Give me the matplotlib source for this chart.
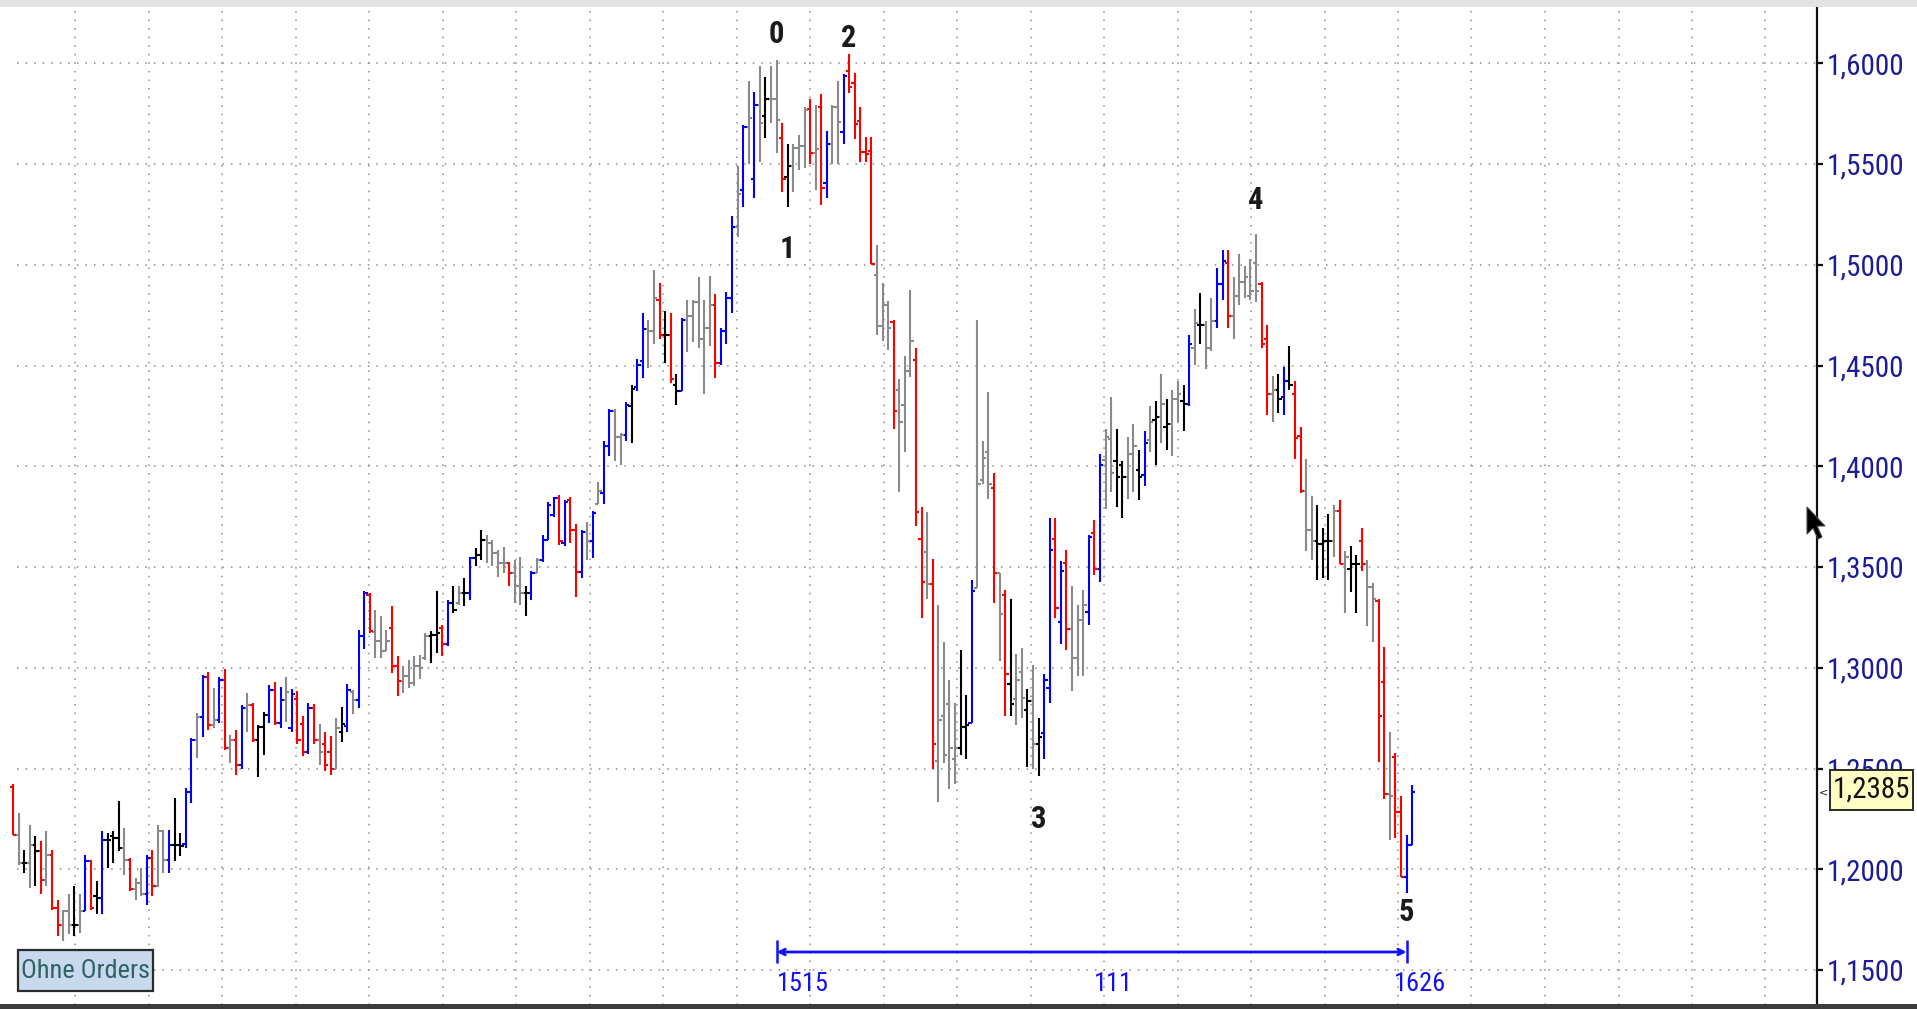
import numpy as np
import matplotlib.pyplot as plt
from matplotlib import font_manager as fm
from matplotlib.patches import Rectangle, Polygon

# ---- OHLC data ----
opens = [
    1.2410, 1.2170, 1.2031, 1.2031, 1.2122, 1.2089, 1.1949, 1.2073, 1.1809, 1.1726,
    1.1793, 1.1726, 1.1726, 1.1793, 1.2040, 1.1866, 1.1860, 1.2147, 1.2163, 1.2155,
    1.2106, 1.2048, 1.1900, 1.1932, 1.1875, 1.2056, 1.1916, 1.2188, 1.2048, 1.2122,
    1.2122, 1.2125, 1.2386, 1.2642, 1.2757, 1.2955, 1.2716, 1.2741, 1.2939, 1.2601,
    1.2642, 1.2518, 1.2799, 1.2815, 1.2642, 1.2708, 1.2766, 1.2889, 1.2724, 1.2840,
    1.2700, 1.2845, 1.2720, 1.2580, 1.2800, 1.2640, 1.2620, 1.2580, 1.2500, 1.2680,
    1.2710, 1.2880, 1.2840,
    1.3157, 1.3363, 1.3180, 1.3132, 1.3083, 1.3198, 1.3009, 1.2934, 1.2959, 1.2926,
    1.3009, 1.3050, 1.3157, 1.3165, 1.3198, 1.3116, 1.3320, 1.3320, 1.3371, 1.3371,
    1.3544, 1.3560, 1.3634, 1.3618, 1.3569, 1.3519, 1.3519, 1.3470, 1.3404, 1.3371,
    1.3371, 1.3470, 1.3536, 1.3634, 1.3758,
    1.3841, 1.3620, 1.3832, 1.3685, 1.3473, 1.3675, 1.3629, 1.3814, 1.3869, 1.4099,
    1.4274, 1.4145, 1.4154, 1.4300, 1.4394, 1.4523, 1.4679, 1.4670, 1.4827, 1.4652,
    1.4652, 1.4403, 1.4375, 1.4725, 1.4744, 1.4817, 1.4633, 1.4688, 1.4799, 1.4514,
    1.4670, 1.4836, 1.5186, 1.5370, 1.5683, 1.5425, 1.5794, 1.5738, 1.5821, 1.5821,
    1.5628, 1.5434, 1.5490, 1.5582, 1.5591, 1.5775, 1.5554, 1.5784, 1.5407, 1.5600,
    1.5784, 1.5657, 1.5962, 1.5900, 1.5715, 1.5560, 1.5566,
    1.4950, 1.4697, 1.4800, 1.4716, 1.4379, 1.4304, 1.4473, 1.4529, 1.3641, 1.3575,
    1.3416, 1.2537, 1.2762, 1.2818, 1.2546, 1.2603, 1.2706, 1.2724, 1.3397, 1.3930,
    1.4071, 1.3893, 1.3472, 1.3360, 1.2921, 1.2846, 1.2977, 1.2790, 1.2836, 1.2621,
    1.2677, 1.2902, 1.3641, 1.3229, 1.3519, 1.3192, 1.3051, 1.3238, 1.3276, 1.3669,
    1.3491, 1.4033, 1.4136, 1.4024, 1.4005, 1.3949, 1.4061,
    1.3981, 1.3958, 1.4129, 1.4232, 1.4243, 1.4197, 1.4209, 1.4334, 1.4323, 1.4311,
    1.4585, 1.4699, 1.4699, 1.4585, 1.4722, 1.4904, 1.5007, 1.4745, 1.4847, 1.4916,
    1.4847, 1.5007, 1.4904, 1.4631, 1.4357, 1.4380, 1.4346, 1.4425, 1.4357, 1.4152,
    1.3878, 1.3684, 1.3627, 1.3616, 1.3627, 1.3627, 1.3776, 1.3513, 1.3491, 1.3513,
    1.3627, 1.3513, 1.3400, 1.3331, 1.2932, 1.2373, 1.2556, 1.2282, 1.1963, 1.2123,
]
highs = [
    1.2423, 1.2279, 1.2098, 1.2221, 1.2163, 1.2139, 1.2188, 1.2098, 1.1850, 1.1800,
    1.1875, 1.1916, 1.1875, 1.2073, 1.2048, 1.1941, 1.2188, 1.2180, 1.2188, 1.2337,
    1.2205, 1.2056, 1.1957, 1.2007, 1.2073, 1.2098, 1.2221, 1.2196, 1.2196, 1.2353,
    1.2180, 1.2403, 1.2650, 1.2774, 1.2964, 1.2980, 1.2898, 1.2955, 1.2992, 1.2667,
    1.2691, 1.2815, 1.2873, 1.2824, 1.2716, 1.2782, 1.2914, 1.2930, 1.2906, 1.2955,
    1.2897, 1.2885, 1.2760, 1.2827, 1.2819, 1.2720, 1.2680, 1.2660, 1.2750, 1.2803,
    1.2922, 1.2890, 1.3190,
    1.3379, 1.3371, 1.3289, 1.3256, 1.3190, 1.3305, 1.3058, 1.3009, 1.3041, 1.3058,
    1.3066, 1.3173, 1.3181, 1.3379, 1.3214, 1.3338, 1.3404, 1.3404, 1.3445, 1.3552,
    1.3593, 1.3684, 1.3659, 1.3634, 1.3585, 1.3601, 1.3527, 1.3536, 1.3552, 1.3404,
    1.3478, 1.3544, 1.3659, 1.3824, 1.3849,
    1.3860, 1.3832, 1.3850, 1.3712, 1.3685, 1.3722, 1.3777, 1.3924, 1.4127, 1.4283,
    1.4283, 1.4164, 1.4320, 1.4403, 1.4532, 1.4762, 1.4725, 1.4974, 1.4910, 1.4771,
    1.4762, 1.4458, 1.4735, 1.4827, 1.4827, 1.4937, 1.4827, 1.4946, 1.4854, 1.4688,
    1.4863, 1.5241, 1.5490, 1.5692, 1.5913, 1.5858, 1.5987, 1.5932, 1.5987, 1.6015,
    1.5702, 1.5600, 1.5600, 1.5646, 1.5784, 1.5821, 1.5794, 1.5849, 1.5665, 1.5794,
    1.5913, 1.5946, 1.6045, 1.5954, 1.5781, 1.5632, 1.5632,
    1.5099, 1.4912, 1.4819, 1.4725, 1.4435, 1.4547, 1.4875, 1.4585, 1.3800, 1.3771,
    1.3538, 1.3313, 1.3126, 1.2939, 1.2827, 1.3089, 1.2865, 1.3435, 1.4725, 1.4127,
    1.4370, 1.3968, 1.3472, 1.3388, 1.3341, 1.3070, 1.3098, 1.2893, 1.3014, 1.2752,
    1.2967, 1.3743, 1.3743, 1.3528, 1.3584, 1.3407, 1.3313, 1.3388, 1.3659, 1.3734,
    1.4061, 1.4183, 1.4342, 1.4183, 1.4024, 1.4145, 1.4211,
    1.4083, 1.4175, 1.4300, 1.4323, 1.4460, 1.4334, 1.4380, 1.4425, 1.4403, 1.4653,
    1.4779, 1.4859, 1.4722, 1.4836, 1.4984, 1.5075, 1.5075, 1.4938, 1.5052, 1.4995,
    1.5030, 1.5155, 1.4916, 1.4699, 1.4448, 1.4460, 1.4494, 1.4596, 1.4425, 1.4197,
    1.4038, 1.3855, 1.3810, 1.3696, 1.3764, 1.3810, 1.3833, 1.3582, 1.3605, 1.3559,
    1.3696, 1.3536, 1.3422, 1.3342, 1.3103, 1.2681, 1.2579, 1.2362, 1.2168, 1.2419,
]
lows = [
    1.2172, 1.2023, 1.1982, 1.1908, 1.1916, 1.1875, 1.1916, 1.1800, 1.1668, 1.1644,
    1.1677, 1.1668, 1.1685, 1.1792, 1.1800, 1.1776, 1.1776, 1.2007, 1.2031, 1.2089,
    1.1974, 1.1891, 1.1850, 1.1866, 1.1825, 1.1866, 1.1910, 1.1982, 1.1982, 1.2040,
    1.2065, 1.2106, 1.2329, 1.2551, 1.2658, 1.2691, 1.2700, 1.2724, 1.2593, 1.2526,
    1.2469, 1.2500, 1.2683, 1.2634, 1.2460, 1.2568, 1.2724, 1.2716, 1.2700, 1.2733,
    1.2680, 1.2620, 1.2560, 1.2570, 1.2620, 1.2520, 1.2490, 1.2470, 1.2500, 1.2630,
    1.2680, 1.2770, 1.2800,
    1.3091, 1.3173, 1.3050, 1.3050, 1.3083, 1.2976, 1.2860, 1.2877, 1.2901, 1.2910,
    1.2943, 1.3041, 1.3025, 1.3074, 1.3058, 1.3107, 1.3272, 1.3313, 1.3305, 1.3338,
    1.3503, 1.3536, 1.3519, 1.3503, 1.3453, 1.3470, 1.3404, 1.3321, 1.3313, 1.3256,
    1.3338, 1.3470, 1.3527, 1.3634, 1.3750,
    1.3611, 1.3602, 1.3620, 1.3353, 1.3445, 1.3537, 1.3546, 1.3814, 1.3814, 1.4053,
    1.4025, 1.4007, 1.4127, 1.4117, 1.4375, 1.4440, 1.4486, 1.4606, 1.4633, 1.4514,
    1.4412, 1.4302, 1.4375, 1.4569, 1.4615, 1.4587, 1.4357, 1.4596, 1.4440, 1.4504,
    1.4606, 1.4762, 1.5140, 1.5287, 1.5499, 1.5333, 1.5508, 1.5628, 1.5702, 1.5554,
    1.5361, 1.5287, 1.5361, 1.5471, 1.5480, 1.5499, 1.5370, 1.5296, 1.5333, 1.5499,
    1.5499, 1.5599, 1.5855, 1.5624, 1.5508, 1.5508, 1.5005,
    1.4650, 1.4622, 1.4575, 1.4183, 1.3874, 1.4071, 1.4445, 1.3706, 1.3248, 1.3341,
    1.2500, 1.2332, 1.2528, 1.2397, 1.2425, 1.2565, 1.2547, 1.2724, 1.3397, 1.3912,
    1.3837, 1.3323, 1.3033, 1.2762, 1.2762, 1.2715, 1.2752, 1.2509, 1.2500, 1.2462,
    1.2547, 1.2827, 1.3248, 1.3117, 1.3089, 1.2883, 1.2958, 1.2958, 1.3210, 1.3463,
    1.3425, 1.3790, 1.3874, 1.3800, 1.3743, 1.3837, 1.3874,
    1.3833, 1.3900, 1.4072, 1.4004, 1.4118, 1.4083, 1.4049, 1.4220, 1.4175, 1.4300,
    1.4505, 1.4608, 1.4482, 1.4574, 1.4688, 1.4824, 1.4688, 1.4631, 1.4802, 1.4836,
    1.4824, 1.4813, 1.4585, 1.4254, 1.4220, 1.4266, 1.4254, 1.4380, 1.4038, 1.3867,
    1.3582, 1.3536, 1.3434, 1.3445, 1.3434, 1.3548, 1.3513, 1.3274, 1.3377, 1.3274,
    1.3479, 1.3206, 1.3126, 1.2533, 1.2351, 1.2146, 1.2157, 1.1963, 1.1883, 1.2123,
]
closes = [
    1.2172, 1.2031, 1.2031, 1.2122, 1.2089, 1.1949, 1.2073, 1.1809, 1.1726, 1.1793,
    1.1726, 1.1726, 1.1793, 1.2040, 1.1809, 1.1858, 1.2147, 1.2147, 1.2155, 1.2106,
    1.2048, 1.1900, 1.1932, 1.1875, 1.2056, 1.1916, 1.2188, 1.2048, 1.2122, 1.2122,
    1.2114, 1.2386, 1.2642, 1.2757, 1.2955, 1.2716, 1.2741, 1.2939, 1.2601, 1.2642,
    1.2518, 1.2799, 1.2815, 1.2642, 1.2708, 1.2766, 1.2889, 1.2724, 1.2840, 1.2881,
    1.2870, 1.2640, 1.2580, 1.2800, 1.2640, 1.2580, 1.2520, 1.2500, 1.2700, 1.2720,
    1.2890, 1.2840, 1.3157,
    1.3371, 1.3181, 1.3132, 1.3083, 1.3132, 1.3009, 1.2934, 1.2959, 1.2926, 1.3009,
    1.3000, 1.3157, 1.3165, 1.3173, 1.3116, 1.3321, 1.3289, 1.3371, 1.3371, 1.3544,
    1.3560, 1.3634, 1.3618, 1.3569, 1.3519, 1.3519, 1.3470, 1.3404, 1.3371, 1.3371,
    1.3470, 1.3536, 1.3634, 1.3808, 1.3841,
    1.3629, 1.3823, 1.3685, 1.3473, 1.3675, 1.3629, 1.3767, 1.3878, 1.4099, 1.4274,
    1.4145, 1.4154, 1.4302, 1.4385, 1.4504, 1.4679, 1.4670, 1.4836, 1.4652, 1.4652,
    1.4431, 1.4375, 1.4725, 1.4744, 1.4817, 1.4633, 1.4688, 1.4799, 1.4514, 1.4670,
    1.4836, 1.5186, 1.5352, 1.5683, 1.5729, 1.5794, 1.5702, 1.5821, 1.5821, 1.5720,
    1.5425, 1.5490, 1.5582, 1.5591, 1.5766, 1.5554, 1.5573, 1.5379, 1.5600, 1.5784,
    1.5711, 1.5937, 1.5880, 1.5700, 1.5560, 1.5549, 1.5005,
    1.4697, 1.4800, 1.4688, 1.4276, 1.4220, 1.4473, 1.4622, 1.3771, 1.3425, 1.3416,
    1.2621, 1.2743, 1.2565, 1.2603, 1.2603, 1.2706, 1.2715, 1.3379, 1.3912, 1.4043,
    1.3912, 1.3472, 1.3266, 1.2967, 1.2818, 1.2939, 1.2850, 1.2836, 1.2621, 1.2659,
    1.2939, 1.3584, 1.3295, 1.3482, 1.3192, 1.3051, 1.3238, 1.3313, 1.3650, 1.3491,
    1.4005, 1.4145, 1.3968, 1.3949, 1.3949, 1.4061, 1.4100,
    1.3947, 1.4118, 1.4220, 1.4243, 1.4311, 1.4209, 1.4334, 1.4357, 1.4311, 1.4608,
    1.4710, 1.4699, 1.4585, 1.4722, 1.4904, 1.5018, 1.4745, 1.4847, 1.4916, 1.4938,
    1.4870, 1.4870, 1.4608, 1.4357, 1.4380, 1.4334, 1.4425, 1.4403, 1.4140, 1.3878,
    1.3684, 1.3627, 1.3616, 1.3627, 1.3627, 1.3776, 1.3513, 1.3548, 1.3513, 1.3513,
    1.3513, 1.3400, 1.3342, 1.2761, 1.2373, 1.2362, 1.2282, 1.1963, 1.2123, 1.2385,
]
# r = red, b = blue, k = black, g = gray
bar_codes = (
    "rgkgkrgrrg" "gkgbrkbkkk" "grggbrggbk" "kbbgbrgbrg" "rbgrkkbrbg"
    "brrbrgrrgkbgb"
    "brgggrrgggggkkrbkgkbkkggggrggkbgbbb"
    "rbrrbgbgbb" "ggbkbbggrk" "rkbgggggrb" "bbgbgbgkgg" "rkgggrgrbg" "gbrrrrr"
    "gggrgggrrg" "rggggkkbgg" "grgrkggkgk" "bbrbrgggbr" "bggkkgg"
    "kbgkgkggkb" "gkggbbrggg" "ggrrgkbkrr" "ggkkkgrgkk" "rggrrgrrbb"
)
palette = {'r': '#ff0000', 'b': '#0000ff', 'k': '#000000', 'g': '#8a8a8a'}

wave_labels = ['0', '1', '2', '3', '4', '5']
wave_bars = [137, 139, 150, 184, 223, 250]
wave_above = [True, False, True, False, True, False]
wave_offsets = [19, 30, 12, 31, 24, 14]

range_labels = ['1515', '111', '1626']


def pick_font(names):
    for nm in names:
        try:
            fm.findfont(fm.FontProperties(family=nm), fallback_to_default=False)
            return nm
        except ValueError:
            pass
    return None


narrow_name = pick_font(['Liberation Sans Narrow', 'Arial Narrow',
                         'Roboto Condensed', 'Open Sans Condensed',
                         'DejaVu Sans Condensed'])
if narrow_name:
    narrow = dict(family=[narrow_name, 'DejaVu Sans'])
    fs = 1.0
else:
    narrow = dict(family=['DejaVu Sans'], stretch='condensed')
    fs = 0.88

# ---- figure geometry (pixels of the 1917x1009 reference) ----
W, H = 1917, 1009
fig = plt.figure(figsize=(W / 100, H / 100), dpi=100)
fig.patch.set_facecolor('white')


def fx(px):
    return px / W


def fy(py):
    return 1 - py / H


def price_at(py):
    return 1.6 - (py - 63.3) / 2015.0


top_px, bottom_px, right_px = 8, 1005, 1817
first_bar_px, bar_px = 13, 5.574

ax = fig.add_axes([0, fy(bottom_px), fx(right_px), (bottom_px - top_px) / H])
ax.set_facecolor('white')
n = len(closes)
x = np.arange(n)
ax.set_xlim(-first_bar_px / bar_px, (right_px - first_bar_px) / bar_px)
ax.set_ylim(price_at(bottom_px), price_at(top_px))

# dotted grid
grid_kw = dict(color='#8c8c8c', lw=1.1, linestyles=[(0, (1, 4.6))], zorder=1)
levels = np.round(np.arange(1.15, 1.6001, 0.05), 2)
ax.hlines(levels, (17 - first_bar_px) / bar_px, ax.get_xlim()[1], **grid_kw)
vgrid = (75 + 73.5 * np.arange(24) - first_bar_px) / bar_px
ax.vlines(vgrid, price_at(bottom_px), price_at(4), **grid_kw)

# OHLC bars
cols = [palette[c] for c in bar_codes]
tick = 0.6
ax.vlines(x, lows, highs, colors=cols, lw=1.5, zorder=3)
ax.hlines(opens, x - tick, x, colors=cols, lw=1.5, zorder=3)
ax.hlines(closes, x, x + tick, colors=cols, lw=1.5, zorder=3)

# wave counts
for lab, b, up, off in zip(wave_labels, wave_bars, wave_above, wave_offsets):
    yv = highs[b] if up else lows[b]
    ax.annotate(lab, (b, yv), xytext=(0, off if up else -off),
                textcoords='offset points', ha='center', va='center',
                fontsize=22 * fs, fontweight='bold', color='#1a1a1a', **narrow)

# bar-count ruler at the bottom
b0, b1 = wave_bars[0], wave_bars[-1]
y_line = price_at(952)
ax.annotate('', xy=(b0, y_line), xytext=(b1, y_line),
            arrowprops=dict(arrowstyle='<->', color='#1010ff', lw=2,
                            shrinkA=0, shrinkB=0, mutation_scale=10))
ax.vlines([b0, b1], price_at(963), price_at(940), color='#1010ff', lw=1.8)
ylab = price_at(984)
lab_kw = dict(va='center', color='#1010ff', fontsize=19 * fs, **narrow)
ax.text(b0, ylab, range_labels[0], ha='left', **lab_kw)
ax.text((b0 + b1) / 2 + 0.5, ylab, range_labels[1], ha='left', **lab_kw)
ax.text(b1 - 2.2, ylab, range_labels[2], ha='left', **lab_kw)

# right price axis
for s in ['left', 'top', 'bottom']:
    ax.spines[s].set_visible(False)
ax.spines['right'].set_color('#101010')
ax.spines['right'].set_linewidth(1.6)
ax.yaxis.tick_right()
ax.set_yticks(levels)
ax.set_yticklabels([f"{v:.4f}".replace('.', ',') for v in levels], **narrow)
ax.tick_params(axis='y', length=4, width=1.6, color='#101010', pad=3,
               labelsize=21 * fs, labelcolor='#1c1c98')
ax.set_xticks([])

# frame pieces
fig.patches.append(Rectangle((0, fy(7)), 1, 7 / H, transform=fig.transFigure,
                             facecolor='#e3e3e3', edgecolor='none', zorder=1))
fig.patches.append(Rectangle((0, 0), 1, fy(1004), transform=fig.transFigure,
                             facecolor='#3c3c3c', edgecolor='none', zorder=1))

# "Ohne Orders" box
fig.patches.append(Rectangle((fx(18), fy(991)), fx(135), 41 / H,
                             transform=fig.transFigure, facecolor='#c8d8ee',
                             edgecolor='#2a2a2a', lw=1.6, zorder=2))
fig.text(fx(85.5), fy(971), 'Ohne Orders', ha='center', va='center',
         color='#2e6464', fontsize=19 * fs, zorder=3, **narrow)

# last price tag
fig.patches.append(Rectangle((fx(1830), fy(810)), fx(83), 40 / H,
                             transform=fig.transFigure, facecolor='#ffffc4',
                             edgecolor='#2a2a2a', lw=1.4, zorder=2))
fig.text(fx(1871.5), fy(790), f"{closes[-1]:.4f}".replace('.', ','),
         ha='center', va='center', color='#111111', fontsize=21 * fs,
         zorder=3, **narrow)
fig.text(fx(1823), fy(792), '<', ha='center', va='center', fontsize=8,
         color='#222222', zorder=3)

# mouse pointer
tip = (1807, 507)
shape = [(0, 0), (0, 27), (6, 21), (11, 32), (15, 30), (10, 19), (18, 19)]
fig.patches.append(Polygon([(fx(tip[0] + a), fy(tip[1] + b)) for a, b in shape],
                           closed=True, transform=fig.transFigure,
                           facecolor='black', edgecolor='#444444', lw=0.8,
                           zorder=4))

fig.savefig('out.png', dpi=100)
